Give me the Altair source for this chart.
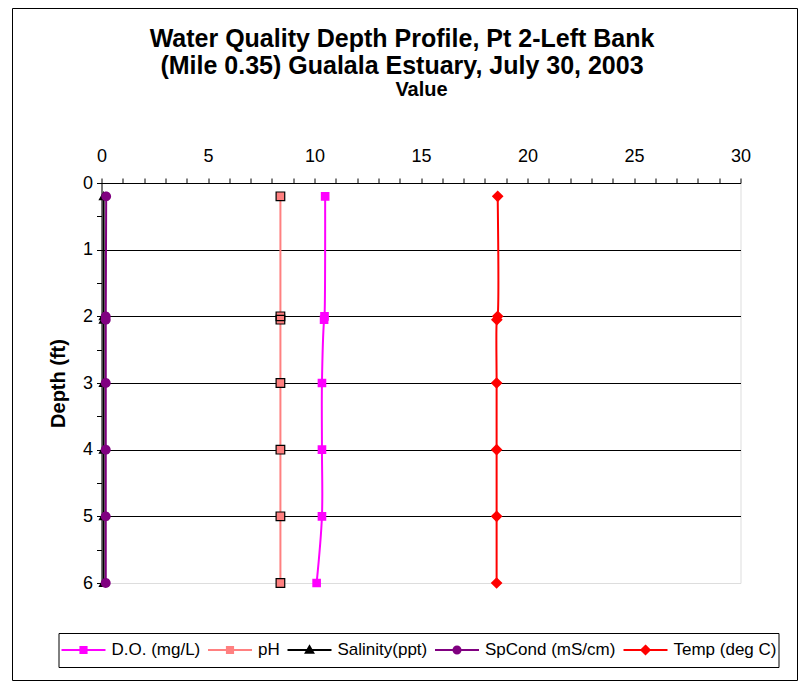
import altair as alt
import pandas as pd

# ---- data ----
depths = [0.2, 2.0, 2.05, 3.0, 4.0, 5.0, 6.0]
do_vals = [10.5, 10.47, 10.45, 10.35, 10.35, 10.35, 10.1]
ph_vals = [8.4, 8.4, 8.4, 8.4, 8.4, 8.4, 8.4]
sal_vals = [0.1, 0.1, 0.1, 0.1, 0.1, 0.1, 0.1]
spc_vals = [0.22, 0.2, 0.2, 0.2, 0.2, 0.2, 0.2]
temp_vals = [18.6, 18.6, 18.56, 18.55, 18.55, 18.55, 18.55]

series_names = ["D.O. (mg/L)", "pH", "Salinity(ppt)", "SpCond (mS/cm)", "Temp (deg C)"]
series_values = [do_vals, ph_vals, sal_vals, spc_vals, temp_vals]

line_colors = ["#FF00FF", "#FF8080", "#000000", "#800080", "#FF0000"]
fill_colors = ["#FF00FF", "#FF8080", "#000000", "#800080", "#FF0000"]

# marker glyph with a horizontal line through it (the line only shows in the legend,
# where the symbols are stroked; data markers are drawn without stroke)
square_path = "M-0.14,-0.14H0.14V0.14H-0.14Z"
marker_paths = [
    "M-1,0H1M-0.14,-0.14H0.14V0.14H-0.14Z",
    "M-1,0H1M-0.14,-0.14H0.14V0.14H-0.14Z",
    "M-1,0H1M0,-0.17L0.17,0.13H-0.17Z",
    "M-1,0H1M-0.16,0A0.16,0.16 0 1,0 0.16,0A0.16,0.16 0 1,0 -0.16,0Z",
    "M-1,0H1M0,-0.19L0.19,0L0,0.19L-0.19,0Z",
]

x_ticks = list(range(0, 31))
y_ticks = [0, 0.5, 1, 1.5, 2, 2.5, 3, 3.5, 4, 4.5, 5, 5.5, 6]

rows = []
for name, vals in zip(series_names, series_values):
    for d, v in zip(depths, vals):
        rows.append({"series": name, "depth": d, "value": v})
df = pd.DataFrame(rows)

FONT = "Liberation Sans"
PLOT_W, PLOT_H = 639, 400
MARKER_SIZE = 3800

x_enc = alt.X(
    "value:Q",
    scale=alt.Scale(domain=[0, 30], nice=False, zero=False),
    axis=alt.Axis(
        orient="top", values=x_ticks,
        labelExpr="datum.value % 5 === 0 ? format(datum.value, 'd') : ''",
        title="Value", titleFontSize=20, titleFontWeight="bold", titleFont=FONT,
        titlePadding=48, labelFontSize=18, labelFont=FONT, labelPadding=13,
        tickSize=5, grid=False, domainColor="#000000", tickColor="#000000",
        labelColor="#000000", titleColor="#000000", labelFlush=False,
    ),
)
y_enc = alt.Y(
    "depth:Q",
    scale=alt.Scale(domain=[0, 6], reverse=True, nice=False, zero=False),
    axis=alt.Axis(
        values=y_ticks,
        labelExpr="datum.value % 1 === 0 ? format(datum.value, 'd') : ''",
        title="Depth (ft)", titleFontSize=20, titleFontWeight="bold", titleFont=FONT,
        titlePadding=14, labelFontSize=18, labelFont=FONT, labelPadding=4,
        tickSize=5, grid=True, gridColor="#000000", gridWidth=1,
        gridOpacity={"condition": {"test": "datum.value % 1 === 0 && datum.value > 0 && datum.value < 6", "value": 1}, "value": 0},
        domainColor="#000000", tickColor="#000000",
        labelColor="#000000", titleColor="#000000", labelFlush=False,
    ),
)

legend = alt.Legend(
    orient="none", legendX=-43, legendY=450, direction="horizontal",
    title=None, labelFont=FONT, labelFontSize=17, labelColor="#000000",
    labelOffset=5, columnPadding=6.5, padding=2, symbolSize=1936, clipHeight=30,
    symbolStrokeWidth=2, symbolOpacity=1, strokeColor="#000000",
)

stroke_scale = alt.Scale(domain=series_names, range=line_colors)

lines = alt.Chart(df).mark_line(strokeWidth=2, interpolate="catmull-rom").encode(
    x=x_enc, y=y_enc,
    stroke=alt.Stroke("series:N", scale=stroke_scale, legend=legend),
    order=alt.Order("depth:Q"),
)

points = alt.Chart(df).mark_point(filled=True, size=MARKER_SIZE, opacity=1).encode(
    x=x_enc, y=y_enc,
    shape=alt.Shape("series:N", scale=alt.Scale(domain=series_names, range=marker_paths), legend=legend),
    fill=alt.Fill("series:N", scale=alt.Scale(domain=series_names, range=fill_colors), legend=legend),
    stroke=alt.Stroke("series:N", scale=stroke_scale, legend=legend),
    strokeWidth=alt.value(0),
)

ph_outline = alt.Chart(df).transform_filter(
    alt.datum.series == "pH"
).mark_point(
    shape=square_path, size=MARKER_SIZE, filled=False, stroke="#000000",
    strokeWidth=1.2, opacity=1
).encode(x=x_enc, y=y_enc)

border = alt.Chart(pd.DataFrame({"k": [0]})).mark_rect(
    fill="transparent", stroke="#000000", strokeWidth=1
).encode(
    x=alt.value(-89), x2=alt.value(696), y=alt.value(-174.5), y2=alt.value(497.5)
)

chart = alt.layer(border, lines, points, ph_outline).properties(
    width=PLOT_W, height=PLOT_H,
    title=alt.TitleParams(
        text=["Water Quality Depth Profile, Pt 2-Left Bank",
              "(Mile 0.35) Gualala Estuary, July 30, 2003"],
        font=FONT, fontSize=25, fontWeight="bold", color="#000000",
        anchor="middle", dx=-19, offset=-71, lineHeight=27,
    ),
    autosize=alt.AutoSizeParams(type="none"),
    padding={"left": 93.5, "top": 175, "right": 57.5, "bottom": 99},
).configure_view(
    stroke="#808080", strokeWidth=1
).configure(background="white")

chart.save("out.html", embed_options={"renderer": "svg", "actions": False})
